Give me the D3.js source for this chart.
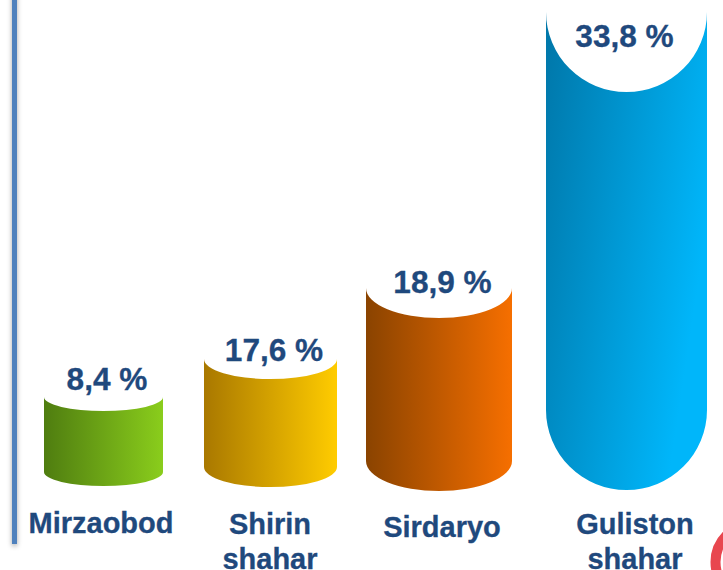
<!DOCTYPE html>
<html>
<head>
<meta charset="utf-8">
<script src="https://cdn.jsdelivr.net/npm/d3@7"></script>
<style>
    html, body { margin: 0; padding: 0; background: #fff; overflow: hidden; }
    svg { display: block; }
    text { font-family: "Liberation Sans", Arial, sans-serif; font-weight: bold; fill: #1f497d; stroke: #1f497d; stroke-width: 0.3; }
</style>
</head>
<body>
<div id="chart"></div>
<script>
// Chart data
const categories = ["Mirzaobod", "Shirin shahar", "Sirdaryo", "Guliston shahar"];
const shares = [8.4, 17.6, 18.9, 33.8];
const share_labels = ["8,4 %", "17,6 %", "18,9 %", "33,8 %"];

const WIDTH = 723;
const HEIGHT = 570;

// The picture is not drawn to a true scale, so the scales go through each value
const x = d3.scaleOrdinal().domain(categories).range([103.5, 270.5, 439, 626.5]);
const top_y = d3.scaleLinear().domain(shares).range([397, 359, 288, 12]);
const bottom_y = d3.scaleLinear().domain(shares).range([472, 467, 461, 410]);
const half_width = d3.scaleLinear().domain(shares).range([59.5, 66.5, 73, 80.5]);
const cap = d3.scaleLinear().domain(shares).range([14, 20, 30, 80]);

const gradient_stops = [
    ["#4f7d10", "#8acd1c"],
    ["#a97800", "#ffcc00"],
    ["#8a4300", "#f66f00"],
    ["#0076a8", "#00b6fa"]
];

const svg = d3.select("#chart")
    .append("svg")
    .attr("width", WIDTH)
    .attr("height", HEIGHT);

const defs = svg.append("defs");

defs.append("filter")
    .attr("id", "rule_shadow")
    .attr("x", "-300%").attr("width", "700%")
    .attr("y", "-5%").attr("height", "110%")
    .append("feDropShadow")
    .attr("dx", 0).attr("dy", 2)
    .attr("stdDeviation", 2.5)
    .attr("flood-color", "#000")
    .attr("flood-opacity", 0.35);

gradient_stops.forEach(function(c, i) {
    const grad = defs.append("linearGradient")
        .attr("id", "grad_" + i)
        .attr("x1", 0).attr("x2", 1)
        .attr("y1", 0).attr("y2", i == 3 ? 0.45 : 0);
    grad.append("stop").attr("offset", 0).attr("stop-color", c[0]);
    grad.append("stop").attr("offset", 1).attr("stop-color", c[1]);
});

// Vertical rule on the left
svg.append("rect")
    .attr("x", 12).attr("y", -10)
    .attr("width", 5).attr("height", 554)
    .attr("fill", "#4f81bd")
    .attr("filter", "url(#rule_shadow)");

// Cut-off red ring in the corner
svg.append("circle")
    .attr("cx", 753.5).attr("cy", 562)
    .attr("r", 38)
    .attr("fill", "none")
    .attr("stroke", "#e8474f")
    .attr("stroke-width", 10);

// Cylinders: the top edge curves down into the body, the bottom edge bulges out
function cylinder(d, i) {
    const cx = x(categories[i]);
    const hw = half_width(d);
    const ry = cap(d);
    const y0 = top_y(d);
    const y1 = bottom_y(d);
    return "M" + (cx - hw) + "," + y0
        + "A" + hw + "," + ry + " 0 0 0 " + (cx + hw) + "," + y0
        + "L" + (cx + hw) + "," + y1
        + "A" + hw + "," + ry + " 0 0 1 " + (cx - hw) + "," + y1
        + "Z";
}

svg.selectAll(".bar")
    .data(shares)
    .enter()
    .append("path")
    .attr("class", "bar")
    .attr("d", cylinder)
    .attr("fill", function(d, i) { return "url(#grad_" + i + ")"; });

// Value labels
const label_y = [390, 361, 293, 47];
svg.selectAll(".value")
    .data(shares)
    .enter()
    .append("text")
    .attr("class", "value")
    .attr("x", function(d, i) { return x(categories[i]) + (i == 3 ? -2 : 3.5); })
    .attr("y", function(d, i) { return label_y[i]; })
    .attr("text-anchor", "middle")
    .attr("font-size", 31.6)
    .text(function(d, i) { return share_labels[i]; });

// Category labels, split on the space
const name_x = [101, 270, 442, 635];
const name_y = [533, 534, 537, 534];
svg.selectAll(".name")
    .data(categories)
    .enter()
    .append("text")
    .attr("class", "name")
    .attr("text-anchor", "middle")
    .attr("font-size", 29)
    .attr("y", function(d, i) { return name_y[i]; })
    .each(function(d, i) {
        d3.select(this).selectAll("tspan")
            .data(d.split(" "))
            .enter()
            .append("tspan")
            .attr("x", name_x[i])
            .attr("dy", function(w, j) { return j ? 35 : 0; })
            .text(function(w) { return w; });
    });
</script>
</body>
</html>
